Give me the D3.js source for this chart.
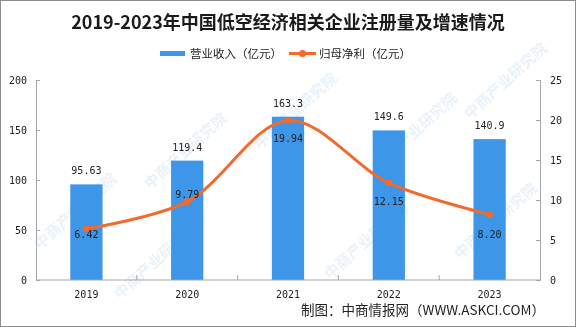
<!DOCTYPE html>
<html>
<head>
<meta charset="utf-8">
<script src="https://cdn.jsdelivr.net/npm/d3@7/dist/d3.min.js"></script>
<style>
  html, body { margin: 0; padding: 0; background: #fff; }
  svg { display: block; }
</style>
</head>
<body>
<svg id="chart" width="576" height="327"></svg>
<script>
// 2019-2023 low-altitude economy companies: revenue and net profit
const years = ["2019", "2020", "2021", "2022", "2023"];
const revenue = [95.63, 119.4, 163.3, 149.6, 140.9];      // 营业收入（亿元）
const netProfit = [6.42, 9.79, 19.94, 12.15, 8.20];        // 归母净利（亿元）
const revenueLabels = ["95.63", "119.4", "163.3", "149.6", "140.9"];
const profitLabels = ["6.42", "9.79", "19.94", "12.15", "8.20"];
const leftTicks = [0, 50, 100, 150, 200];
const rightTicks = [0, 5, 10, 15, 20, 25];

const W = 576, H = 327;
const margin = { left: 36, right: 36, top: 80, bottom: 47 };
const svg = d3.select("#chart");

const BLUE = "#3d96e8";
const ORANGE = "#f26a2c";
const AXIS = "#a6a6a6";
const numFont = "'DejaVu Sans Mono', 'Liberation Mono', monospace";
const cjkFont = "'Noto Sans CJK SC', 'Noto Sans', sans-serif";

// faint diagonal watermark marks
const wmSpots = [[40, 250], [150, 190], [120, 300], [260, 150], [330, 280], [380, 170], [470, 120], [460, 260]];
const wm = svg.append("g").attr("fill", "#9cc3e6").attr("opacity", 0.22)
  .attr("font-family", cjkFont).attr("font-size", 15).attr("font-weight", 700);
wm.selectAll("text").data(wmSpots).join("text")
  .attr("transform", d => `translate(${d[0]},${d[1]}) rotate(-42)`)
  .text("中商产业研究院");

const x = d3.scaleBand().domain(years)
  .range([margin.left, W - margin.right])
  .paddingInner(0.68).paddingOuter(0.34);
const yL = d3.scaleLinear().domain([0, 200]).range([H - margin.bottom, margin.top]);
const yR = d3.scaleLinear().domain([0, 25]).range([H - margin.bottom, margin.top]);
const cx = d => x(d) + x.bandwidth() / 2;

// bars
svg.append("g").selectAll("rect").data(years).join("rect")
  .attr("x", d => x(d))
  .attr("y", (d, i) => yL(revenue[i]))
  .attr("width", x.bandwidth())
  .attr("height", (d, i) => yL(0) - yL(revenue[i]))
  .attr("fill", BLUE);

// axes
function styleAxis(g) {
  g.selectAll("path.domain").attr("stroke", AXIS);
  g.selectAll(".tick line").attr("stroke", AXIS);
  g.selectAll(".tick text").attr("fill", "#222")
    .attr("font-family", numFont).attr("font-size", 10);
}
const leftAxis = svg.append("g").attr("transform", `translate(${margin.left},0)`)
  .call(d3.axisLeft(yL).tickValues(leftTicks).tickSizeInner(-4).tickSizeOuter(-4).tickPadding(9));
styleAxis(leftAxis);

const rightAxis = svg.append("g").attr("transform", `translate(${W - margin.right},0)`)
  .call(d3.axisRight(yR).tickValues(rightTicks).tickSizeInner(-4).tickSizeOuter(-4).tickPadding(10));
styleAxis(rightAxis);
rightAxis.selectAll(".tick text").attr("text-anchor", "start");

// category axis with ticks on band boundaries
const bottom = svg.append("g").attr("transform", `translate(0,${yL(0)})`);
bottom.append("line").attr("x1", margin.left).attr("x2", W - margin.right)
  .attr("stroke", AXIS);
const step = x.step();
bottom.selectAll("line.b").data(d3.range(1, years.length)).join("line")
  .attr("class", "b")
  .attr("x1", i => margin.left + i * step).attr("x2", i => margin.left + i * step)
  .attr("y1", 0).attr("y2", -5).attr("stroke", AXIS);
bottom.selectAll("text").data(years).join("text")
  .attr("x", d => cx(d)).attr("y", 17.5)
  .attr("text-anchor", "middle").attr("fill", "#222")
  .attr("font-family", numFont).attr("font-size", 10)
  .text(d => d);

// revenue value labels
svg.append("g").selectAll("text").data(years).join("text")
  .attr("x", d => cx(d))
  .attr("y", (d, i) => yL(revenue[i]) - 10)
  .attr("text-anchor", "middle").attr("fill", "#222")
  .attr("font-family", numFont).attr("font-size", 10)
  .text((d, i) => revenueLabels[i]);

// profit line
const line = d3.line().x((d, i) => cx(years[i])).y(d => yR(d))
  .curve(d3.curveCatmullRom.alpha(0.5));
svg.append("path").datum(netProfit)
  .attr("d", line).attr("fill", "none")
  .attr("stroke", ORANGE).attr("stroke-width", 3)
  .attr("stroke-linecap", "round");
svg.append("g").selectAll("circle").data(netProfit).join("circle")
  .attr("cx", (d, i) => cx(years[i])).attr("cy", d => yR(d))
  .attr("r", 3.5).attr("fill", ORANGE);

// profit value labels (baseline offset from each point)
const profitDy = [9, -4, 22, 22, 24];
svg.append("g").selectAll("text").data(netProfit).join("text")
  .attr("x", (d, i) => cx(years[i]))
  .attr("y", (d, i) => yR(d) + profitDy[i])
  .attr("text-anchor", "middle").attr("fill", "#222")
  .attr("font-family", numFont).attr("font-size", 10)
  .text((d, i) => profitLabels[i]);

// title
svg.append("text").attr("x", W / 2).attr("y", 29)
  .attr("text-anchor", "middle").attr("fill", "#1a1a1a")
  .attr("font-family", cjkFont).attr("font-weight", 700).attr("font-size", 18)
  .text("2019-2023年中国低空经济相关企业注册量及增速情况");

// legend
const lg = svg.append("g").attr("font-family", cjkFont).attr("font-size", 11.5).attr("fill", "#222");
lg.append("rect").attr("x", 160).attr("y", 51).attr("width", 25).attr("height", 5).attr("fill", BLUE);
lg.append("text").attr("x", 190).attr("y", 57.5).text("营业收入（亿元）");
lg.append("line").attr("x1", 289).attr("x2", 316).attr("y1", 53.5).attr("y2", 53.5)
  .attr("stroke", ORANGE).attr("stroke-width", 3);
lg.append("circle").attr("cx", 302.5).attr("cy", 53.5).attr("r", 3.5).attr("fill", ORANGE);
lg.append("text").attr("x", 319).attr("y", 57.5).text("归母净利（亿元）");

// source note
svg.append("text").attr("x", 545).attr("y", 315)
  .attr("text-anchor", "end").attr("fill", "#222")
  .attr("font-family", cjkFont).attr("font-size", 13.5)
  .text("制图：中商情报网（WWW.ASKCI.COM）");

// frame
svg.append("rect").attr("x", 0.5).attr("y", 0.5).attr("width", W - 1).attr("height", H - 1)
  .attr("fill", "none").attr("stroke", "#8c8c8c");
</script>
</body>
</html>
